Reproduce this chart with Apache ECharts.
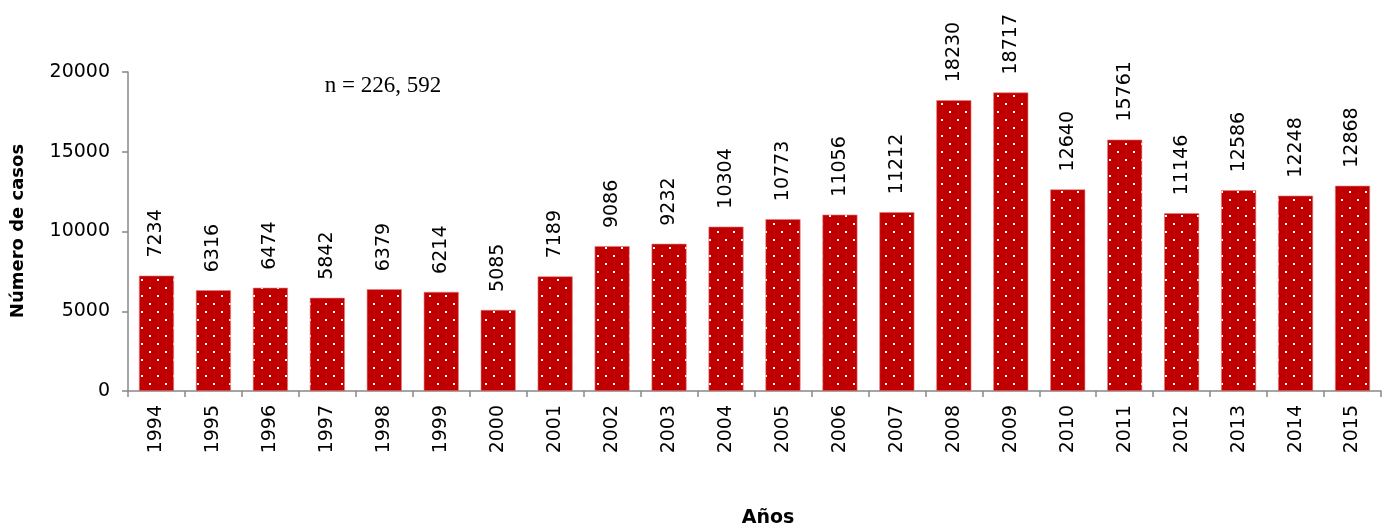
<!DOCTYPE html>
<html>
<head>
<meta charset="utf-8">
<script src="https://cdn.jsdelivr.net/npm/echarts@6/dist/echarts.min.js"></script>
<style>
  html, body { margin: 0; padding: 0; background: #fff; }
  #chart { width: 1384px; height: 531px; }
</style>
</head>
<body>
<div id="chart"></div>
<script>
// Data
const years = ['1994', '1995', '1996', '1997', '1998', '1999', '2000', '2001', '2002', '2003', '2004',
  '2005', '2006', '2007', '2008', '2009', '2010', '2011', '2012', '2013', '2014', '2015'];
const cases = [7234, 6316, 6474, 5842, 6379, 6214, 5085, 7189, 9086, 9232, 10304,
  10773, 11056, 11212, 18230, 18717, 12640, 15761, 11146, 12586, 12248, 12868];
const yTicks = [0, 5000, 10000, 15000, 20000];

// Dotted red fill (white dots on dark red, staggered)
function dotPattern() {
  const c = document.createElement('canvas');
  c.width = 16;
  c.height = 16;
  const ctx = c.getContext('2d');
  ctx.fillStyle = '#C00000';
  ctx.fillRect(0, 0, 16, 16);
  ctx.fillStyle = '#ffffff';
  ctx.fillRect(13, 7, 2, 2);
  ctx.fillRect(5, 15, 2, 1);
  ctx.fillRect(5, 0, 2, 1);
  return c;
}

const font = 'DejaVu Sans';
const chart = echarts.init(document.getElementById('chart'));

const option = {
  animation: false,
  backgroundColor: '#fff',
  grid: {
    left: 128,
    right: 3,
    top: 72,
    bottom: 140,
  },
  xAxis: {
    type: 'category',
    data: years,
    boundaryGap: true,
    axisLine: { lineStyle: { color: '#888', width: 1.5 } },
    axisTick: { show: true, length: 6, alignWithLabel: false, lineStyle: { color: '#888', width: 1.5 } },
    axisLabel: {
      rotate: 90,
      margin: 14,
      fontSize: 19,
      fontFamily: font,
      color: '#000',
    },
  },
  yAxis: {
    type: 'value',
    min: yTicks[0],
    max: yTicks[yTicks.length - 1],
    interval: 5000,
    splitLine: { show: false },
    axisLine: { show: true, lineStyle: { color: '#888', width: 1.5 } },
    axisTick: { show: true, length: 6, lineStyle: { color: '#888', width: 1.5 } },
    axisLabel: {
      margin: 18,
      fontSize: 19,
      fontFamily: font,
      color: '#000',
      formatter: (v) => String(v),
    },
  },
  graphic: [
    {
      type: 'text',
      x: 18,
      y: 231,
      rotation: Math.PI / 2,
      style: {
        text: 'Número de casos',
        fontFamily: font,
        fontWeight: 'bold',
        fontSize: 18,
        fill: '#000',
        align: 'center',
        verticalAlign: 'middle',
      },
    },
    {
      type: 'text',
      x: 768,
      y: 518,
      style: {
        text: 'Años',
        fontFamily: font,
        fontWeight: 'bold',
        fontSize: 19,
        fill: '#000',
        align: 'center',
        verticalAlign: 'middle',
      },
    },
    {
      type: 'text',
      x: 383,
      y: 86,
      style: {
        text: 'n = 226, 592',
        fontFamily: 'Liberation Serif',
        fontSize: 23,
        fill: '#000',
        align: 'center',
        verticalAlign: 'middle',
      },
    },
  ],
  series: [
    {
      type: 'bar',
      data: cases,
      barWidth: 35,
      itemStyle: {
        color: { image: dotPattern(), repeat: 'repeat' },
        borderColor: '#e08080',
        borderWidth: 0.6,
      },
      label: {
        show: true,
        position: 'top',
        rotate: 90,
        align: 'left',
        verticalAlign: 'middle',
        distance: 18,
        fontSize: 19,
        fontFamily: font,
        color: '#000',
      },
    },
  ],
};

chart.setOption(option);
</script>
</body>
</html>
